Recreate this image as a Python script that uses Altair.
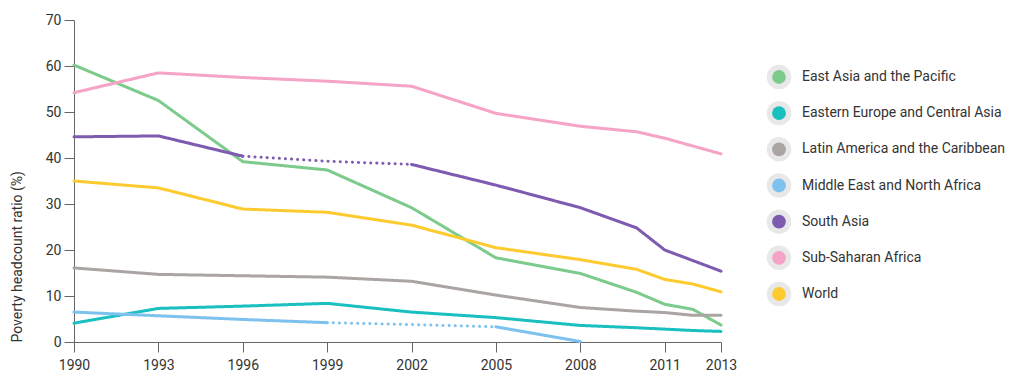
import altair as alt
import pandas as pd

years = [1990, 1993, 1996, 1999, 2002, 2005, 2008, 2010, 2011, 2012, 2013]

regions = [
    "East Asia and the Pacific",
    "Eastern Europe and Central Asia",
    "Latin America and the Caribbean",
    "Middle East and North Africa",
    "South Asia",
    "Sub-Saharan Africa",
    "World",
]
colors = ["#7ccb8c", "#1ac0c0", "#aaa5a3", "#7dc1ee", "#7e5bb0", "#f5a3c7", "#fdcb30"]

east_asia = [60.2, 52.5, 39.2, 37.4, 29.2, 18.3, 14.9, 10.8, 8.2, 7.1, 3.7]
eastern_europe = [4.1, 7.3, 7.8, 8.4, 6.5, 5.3, 3.6, 3.1, 2.8, 2.5, 2.3]
latin_america = [16.1, 14.7, 14.4, 14.1, 13.2, 10.2, 7.5, 6.7, 6.4, 5.8, 5.8]
middle_east = [6.5, 5.7, 4.9, 4.2, 3.8, 3.3, 0.1, None, None, None, None]
south_asia = [44.6, 44.8, 40.4, 39.3, 38.6, 34.1, 29.2, 24.8, 20.0, 17.7, 15.4]
sub_saharan = [54.2, 58.5, 57.5, 56.7, 55.6, 49.7, 46.9, 45.7, 44.3, 42.6, 40.9]
world = [35.0, 33.5, 28.9, 28.2, 25.4, 20.5, 17.9, 15.8, 13.6, 12.6, 10.9]

series = [east_asia, eastern_europe, latin_america, middle_east, south_asia, sub_saharan, world]

# dotted (data-gap) year ranges per region
dotted_ranges = {
    "South Asia": (1996, 2002),
    "Middle East and North Africa": (1999, 2005),
}

rows = []
for reg, vals in zip(regions, series):
    pts = [(y, v) for y, v in zip(years, vals) if v is not None]
    if reg in dotted_ranges:
        a, b = dotted_ranges[reg]
        segs = [
            ("s1", "solid", [p for p in pts if p[0] <= a]),
            ("d", "dotted", [p for p in pts if a <= p[0] <= b]),
            ("s2", "solid", [p for p in pts if p[0] >= b]),
        ]
    else:
        segs = [("s1", "solid", pts)]
    for sid, style, sp in segs:
        for y, v in sp:
            rows.append({"region": reg, "year": y, "value": v,
                         "seg": reg + sid, "style": style})

df = pd.DataFrame(rows)
legend_df = pd.DataFrame({"region": regions})

font = "Roboto"
color_scale = alt.Scale(domain=regions, range=colors)

lines = alt.Chart(df).mark_line(strokeWidth=3, strokeCap="round").encode(
    x=alt.X("year:Q",
            scale=alt.Scale(domain=[1990, 2013], nice=False, zero=False),
            axis=alt.Axis(values=[1990, 1993, 1996, 1999, 2002, 2005, 2008, 2011, 2013],
                          format="d", title=None, grid=False, tickSize=10,
                          labelPadding=6, labelFontSize=14, labelColor="#333",
                          labelFont=font, domainColor="#666", tickColor="#666",
                          labelFlush=False)),
    y=alt.Y("value:Q",
            scale=alt.Scale(domain=[0, 70], nice=False),
            axis=alt.Axis(values=[0, 10, 20, 30, 40, 50, 60, 70],
                          title="Poverty headcount ratio (%)", grid=False,
                          tickSize=10, labelPadding=3, labelFontSize=14,
                          labelColor="#333", labelFont=font, titleFont=font,
                          titleFontSize=14, titleFontWeight="normal",
                          titleColor="#333", titlePadding=21,
                          titleAnchor="start",
                          domainColor="#666", tickColor="#666")),
    color=alt.Color("region:N", scale=color_scale, legend=None),
    strokeDash=alt.StrokeDash("style:N",
                              scale=alt.Scale(domain=["solid", "dotted"],
                                              range=[[1, 0], [0.1, 6]]),
                              legend=None),
    detail="seg:N",
    order="year:Q",
)

leg_y = alt.Y("region:N", sort=regions,
              scale=alt.Scale(domain=regions, range=[57, 274], padding=0),
              axis=None)

halo = alt.Chart(legend_df).mark_circle(size=600, color="#e8e8e8", opacity=1).encode(
    x=alt.value(705), y=leg_y)
dot = alt.Chart(legend_df).mark_circle(size=190, opacity=1).encode(
    x=alt.value(705), y=leg_y,
    color=alt.Color("region:N", scale=color_scale, legend=None))
text = alt.Chart(legend_df).mark_text(align="left", baseline="middle", dx=23,
                                       font=font, fontSize=14, color="#333").encode(
    x=alt.value(705), y=leg_y, text="region:N")

legend = alt.layer(halo, dot, text)

chart = alt.layer(lines, legend).resolve_scale(y="independent").properties(
    width=647, height=322,
    autosize=alt.AutoSizeParams(type="none"),
    padding={"left": 66, "top": 12, "right": 290, "bottom": 40},
).configure_view(stroke=None)

chart.save("out.html", embed_options={"renderer": "svg", "actions": False})
